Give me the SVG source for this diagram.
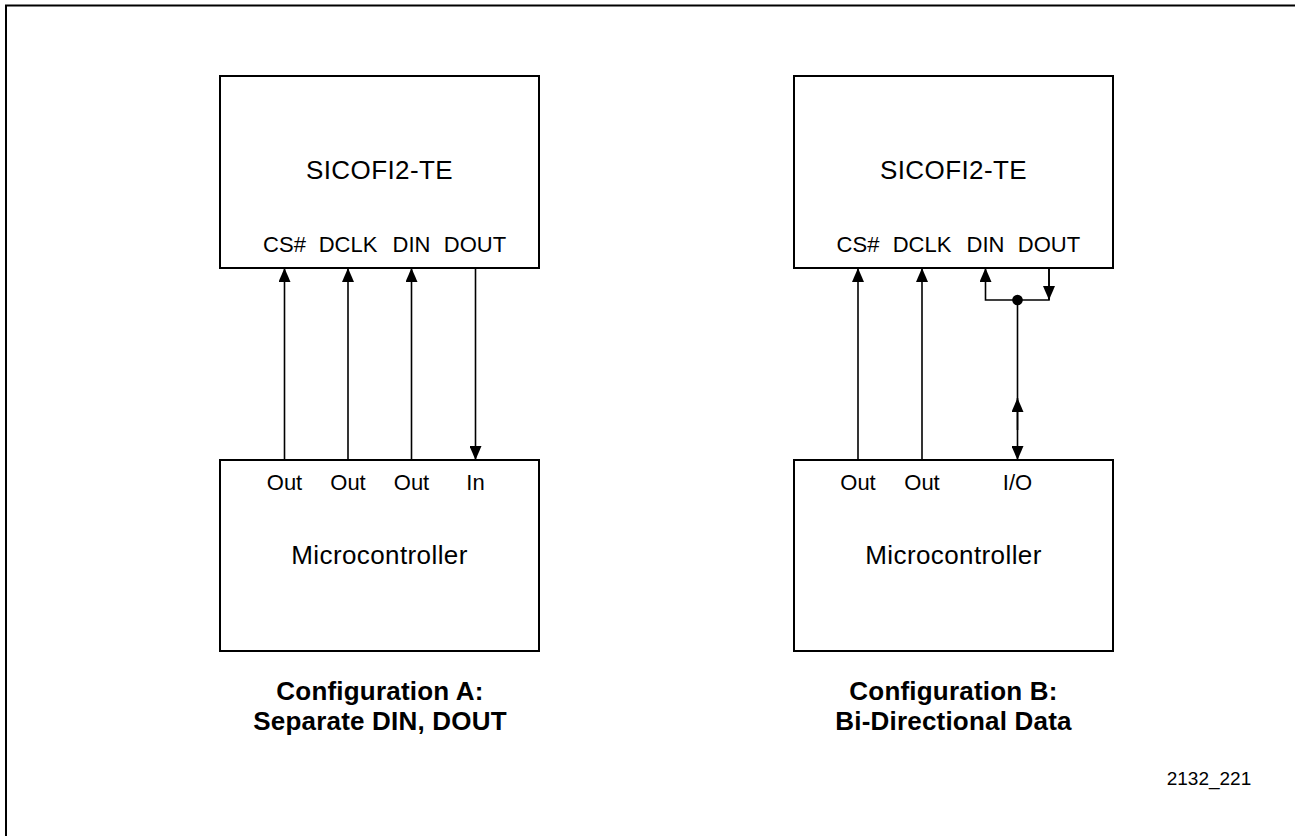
<svg xmlns="http://www.w3.org/2000/svg" width="1295" height="836" viewBox="0 0 1295 836">
<defs>
<marker id="arr" viewBox="0 0 14 12" refX="14" refY="6" markerWidth="14" markerHeight="12" markerUnits="userSpaceOnUse" orient="auto">
<path d="M0,0 L14,6 L0,12 z" fill="#000"/>
</marker>
<style>
.box{fill:#fff;stroke:#000;stroke-width:2}
.ln{fill:none;stroke:#000;stroke-width:1.6}
.t{font-family:"Liberation Sans",Arial,sans-serif;fill:#000;text-anchor:middle}
.title{font-size:26px;letter-spacing:0.4px}
.pin{font-size:22px}
.cap{font-size:26px;font-weight:bold;letter-spacing:0.2px}
</style>
</defs>
<rect width="1295" height="836" fill="#fff"/>
<path d="M6,836 V5.5 H1295" fill="none" stroke="#000" stroke-width="2"/>

<g id="chipA">
<rect class="box" x="220" y="76" width="319" height="192"/>
<text class="t title" x="379.5" y="179">SICOFI2-TE</text>
<text class="t pin" x="284.5" y="252">CS#</text>
<text class="t pin" x="348" y="252">DCLK</text>
<text class="t pin" x="411.5" y="252">DIN</text>
<text class="t pin" x="475" y="252">DOUT</text>
</g>
<g id="mcuA">
<rect class="box" x="220" y="460" width="319" height="191"/>
<text class="t pin" x="284.5" y="490">Out</text>
<text class="t pin" x="348" y="490">Out</text>
<text class="t pin" x="411.5" y="490">Out</text>
<text class="t pin" x="475.5" y="490">In</text>
<text class="t title" x="379.5" y="564">Microcontroller</text>
</g>
<g id="captionA">
<text class="t cap" x="380" y="700">Configuration A:</text>
<text class="t cap" x="380" y="730">Separate DIN, DOUT</text>
</g>

<g id="chipB">
<rect class="box" x="794" y="76" width="319" height="192"/>
<text class="t title" x="953.5" y="179">SICOFI2-TE</text>
<text class="t pin" x="858" y="252">CS#</text>
<text class="t pin" x="922" y="252">DCLK</text>
<text class="t pin" x="985.5" y="252">DIN</text>
<text class="t pin" x="1049" y="252">DOUT</text>
</g>
<g id="mcuB">
<rect class="box" x="794" y="460" width="319" height="191"/>
<text class="t pin" x="858" y="490">Out</text>
<text class="t pin" x="922" y="490">Out</text>
<text class="t pin" x="1017.5" y="490">I/O</text>
<text class="t title" x="953.5" y="564">Microcontroller</text>
</g>
<g id="captionB">
<text class="t cap" x="953.5" y="700">Configuration B:</text>
<text class="t cap" x="953.5" y="730">Bi-Directional Data</text>
</g>

<g id="figref">
<text class="t" x="1209" y="785" style="font-size:19px">2132_221</text>
</g>

<g id="connectors">
<line class="ln" x1="284.5" y1="460" x2="284.5" y2="268" marker-end="url(#arr)"/>
<line class="ln" x1="348" y1="460" x2="348" y2="268" marker-end="url(#arr)"/>
<line class="ln" x1="411.5" y1="460" x2="411.5" y2="268" marker-end="url(#arr)"/>
<line class="ln" x1="475.5" y1="268" x2="475.5" y2="460" marker-end="url(#arr)"/>

<line class="ln" x1="858" y1="460" x2="858" y2="268" marker-end="url(#arr)"/>
<line class="ln" x1="922" y1="460" x2="922" y2="268" marker-end="url(#arr)"/>
<path class="ln" d="M1017.5,300 H985.5 V268" marker-end="url(#arr)"/>
<path class="ln" d="M1017.5,300 H1049 V268"/>
<line class="ln" x1="1049" y1="268" x2="1049" y2="300" marker-end="url(#arr)"/>
<line class="ln" x1="1017.5" y1="300" x2="1017.5" y2="460" marker-end="url(#arr)"/>
<line class="ln" x1="1017.5" y1="430" x2="1017.5" y2="398" marker-end="url(#arr)"/>
<circle cx="1017.5" cy="300" r="5.3" fill="#000"/>
</g>
</svg>
